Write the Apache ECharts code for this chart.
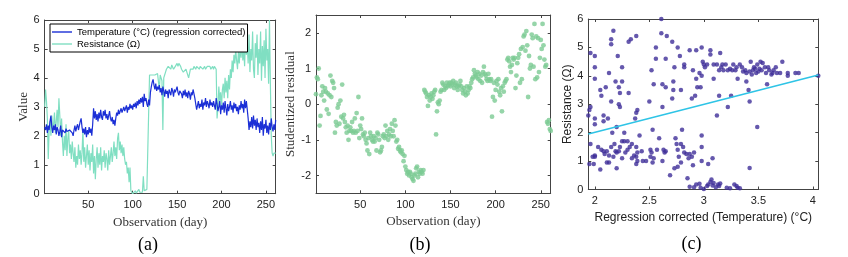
<!DOCTYPE html>
<html><head><meta charset="utf-8">
<script src="https://cdn.jsdelivr.net/npm/echarts@6/dist/echarts.min.js"></script>
<style>html,body{margin:0;padding:0;background:#fff}#c{width:848px;height:257px}</style>
</head><body><div id="c"></div>
<script>
// ---- Panel (a): daily series (day 1..261)
const temperature = [
2.3,2.2,2.4,2.1,2.35,2.2,2.5,2.7,2.3,2.1,
2.35,2.2,2.4,2.05,2.3,2.2,2.0,2.15,2.35,1.95,
2.2,2.15,2.2,2.1,2.25,2.15,2.2,2.1,2.2,2.15,
2.25,2.1,2.0,2.2,2.35,2.15,2.3,2.4,2.2,2.35,
2.5,2.6,2.3,2.1,2.25,2.05,2.3,1.95,2.2,2.05,
2.3,2.1,2.25,2.0,2.4,2.95,2.6,2.85,2.55,2.75,
2.5,2.8,2.6,2.9,2.65,2.55,2.85,2.7,2.9,2.6,
2.75,2.55,2.7,2.85,2.6,2.5,2.65,2.4,2.55,2.35,
2.6,2.8,2.7,2.9,2.75,2.85,2.95,2.8,2.9,3.0,
2.85,2.95,3.05,2.8,3.0,2.9,3.1,2.95,3.05,2.9,
3.1,3.0,3.15,2.95,3.2,3.05,3.25,3.1,3.3,3.15,
3.35,3.0,3.45,3.2,3.3,3.1,3.0,3.25,3.05,3.5,
3.7,3.85,3.95,3.75,3.6,3.8,3.55,3.7,3.6,3.75,
3.5,3.65,3.4,3.7,3.55,3.35,3.6,3.45,3.55,3.3,
3.6,3.5,3.4,3.65,3.55,3.35,3.6,3.5,3.45,3.7,
3.5,3.4,3.55,3.6,3.45,3.3,3.55,3.4,3.6,3.35,
3.5,3.3,3.55,3.45,3.25,3.5,3.4,3.6,3.55,3.3,
3.1,2.9,3.05,3.2,2.95,3.1,3.0,3.25,2.9,3.15,
3.05,3.3,3.0,3.2,3.1,2.95,3.25,3.05,3.15,3.0,
3.2,3.05,2.9,3.3,3.1,2.85,3.0,3.2,2.75,3.05,
2.9,3.15,2.8,3.2,2.95,2.7,3.1,2.85,3.0,3.2,
2.9,3.05,2.8,3.15,2.95,3.1,2.85,3.0,2.75,3.05,
2.9,3.2,2.95,3.1,2.8,3.25,2.95,3.2,3.25,2.6,
2.2,2.5,2.3,2.65,2.25,2.7,2.35,2.55,2.2,2.6,
2.3,2.45,2.1,2.5,2.2,2.65,2.0,2.4,2.25,2.55,
2.1,2.35,2.05,2.45,2.2,2.6,2.3,2.15,2.4,2.2,2.55];
const resistance = [
3.0,3.6,3.2,2.6,1.2,2.2,2.5,2.0,2.7,2.2,
2.4,2.8,2.1,2.5,2.9,2.3,3.3,2.7,2.0,2.6,
1.8,1.3,2.0,1.5,2.4,1.3,1.9,2.2,1.4,1.7,
1.2,1.8,1.4,1.1,1.6,0.9,1.3,1.0,1.7,1.2,
1.5,1.0,1.4,2.2,1.1,1.6,0.9,1.3,1.7,1.0,
1.5,0.8,1.4,1.1,1.7,0.7,1.3,0.5,1.2,1.6,
0.9,1.4,1.0,1.6,0.8,1.3,1.1,1.5,0.9,1.4,
1.2,0.8,1.5,1.0,1.3,1.6,1.1,1.4,1.8,1.3,
1.6,1.2,1.9,2.1,1.5,1.8,1.4,1.7,1.3,1.6,
1.2,1.0,1.1,0.7,0.9,0.4,0.9,0.1,0.05,0.0,
0.05,0.0,0.1,0.02,0.0,0.08,0.15,0.05,0.0,0.1,
0.05,0.6,0.1,0.05,0.1,0.15,0.1,0.2,4.1,4.1,
4.05,4.1,4.15,4.1,4.1,4.05,4.1,4.15,4.1,3.6,
4.1,4.0,3.9,2.2,4.0,4.1,4.2,4.3,4.3,4.4,
4.35,4.4,4.3,4.45,4.4,4.3,4.35,4.4,4.45,4.5,
4.4,4.5,4.45,4.4,4.3,4.35,4.2,4.25,4.15,4.3,
4.2,4.1,4.0,4.15,4.3,4.25,4.35,4.3,4.4,4.35,
4.3,4.4,4.35,4.4,4.3,4.4,4.35,4.4,4.3,4.35,
4.4,4.3,4.35,4.4,4.45,4.35,4.4,4.3,4.35,4.4,
4.3,4.4,4.35,4.3,2.6,3.0,3.7,3.2,3.5,3.0,
3.6,3.8,3.3,4.0,3.5,3.9,3.3,4.1,3.6,4.3,
4.0,4.6,4.2,4.8,4.5,5.0,4.6,4.3,4.9,4.5,
5.1,4.7,5.3,4.6,5.0,4.4,5.4,4.8,5.2,4.5,
5.5,4.2,5.0,4.6,5.6,4.3,4.0,5.2,4.7,5.5,
4.1,5.0,4.5,5.6,3.9,5.1,4.4,5.3,4.0,5.7,
4.6,5.0,3.8,6.0,3.8,2.0,1.4,1.3,1.4,1.35,1.4];

// ---- Panel (b): studentized residual per day (day 1..261)
const residual = [
0.28,0.75,0.7,1.0,-0.6,
-0.33,0.25,0.5,0.35,0.1,0.45,
0.35,-0.15,0.3,-0.27,0.25,
0.8,0.2,0.65,0.6,0.45,-0.8,
-0.5,-0.6,-0.1,0.0,-0.55,
0.1,-0.35,0.55,-0.4,-0.3,-0.5,
-0.65,-0.8,-0.6,-1.0,-0.75,
-0.65,-0.75,-0.5,-0.8,-0.75,-0.4,
-0.8,-0.25,-0.75,0.2,-0.95,
-0.6,-0.7,-0.4,-0.85,-0.9,-0.8,
-1.0,-1.1,-1.3,-0.95,-1.4,
-0.8,-0.9,-1.0,-1.05,-0.9,-1.05,
-0.95,-1.3,-0.8,-0.85,-1.0,-1.35,
-1.3,-1.2,-0.9,-0.85,-0.95,
-0.6,-0.9,-0.75,-1.0,-0.85,-0.7,
-0.9,-0.55,-0.75,-0.9,-0.45,
-0.6,-1.05,-1.0,-1.25,-1.2,-1.3,
-1.35,-1.3,-1.4,-1.6,-1.45,
-1.75,-1.85,-1.95,-1.9,-2.0,-1.9,
-1.95,-2.05,-2.1,-2.15,-2.0,
-1.95,-1.8,-1.75,-2.05,-1.9,-1.95,
-1.85,-1.9,-1.95,-1.85,
0.4,0.35,0.3,0.2,-0.05,
0.25,0.1,0.2,0.3,0.15,0.25,
0.35,0.4,-0.85,-0.2,0.05,
0.0,0.1,0.35,0.4,0.6,0.55,
0.4,0.5,0.45,0.6,0.5,
0.55,0.6,0.5,0.6,0.55,0.65,
0.45,0.55,0.6,0.5,0.4,
0.5,0.55,0.65,0.5,0.4,0.3,
0.45,0.35,0.25,0.5,0.3,
0.4,0.5,0.45,0.6,0.7,0.75,
0.95,0.85,0.8,0.75,0.9,0.7,
0.85,0.65,0.8,0.6,0.9,
1.05,0.85,0.8,0.7,0.65,0.85,
0.7,0.65,0.7,-0.35,0.2,
0.6,0.1,0.4,0.65,0.55,0.7,
0.35,0.25,0.45,-0.2,0.5,
0.35,0.6,0.65,0.7,1.25,1.3,
1.2,1.05,0.9,1.1,1.3,
1.25,1.3,0.45,0.8,1.15,1.3,
1.4,0.6,1.55,0.7,1.6,1.9,
1.95,1.5,2.05,1.65,0.2,
1.35,1.0,1.1,1.95,1.85,1.05,
2.25,0.7,1.9,0.75,1.85,
0.9,1.3,1.8,1.55,2.25,
1.65,1.25,1.05,1.1,
-0.5,-0.55,-0.45,-0.7,-0.75];

// ---- Panel (c): [corrected temperature, resistance]
const scatterC = [
[2.61,6.0],[2.17,5.59],[2.15,5.29],[2.15,5.11],[2.38,5.4],[2.33,5.29],[2.31,5.2],[2.61,5.5],[2.66,5.4],[2.71,5.2],
[2.76,5.0],[2.56,5.0],[1.96,4.8],[2.0,4.7],[2.21,4.7],[2.56,4.6],[2.65,4.6],[2.78,4.7],[2.87,4.9],[2.98,5.0],
[2.93,4.9],[3.06,4.9],[3.15,4.8],[3.06,4.75],[2.0,4.3],[2.25,4.3],[2.13,4.1],[2.52,4.2],[2.73,4.3],[2.82,4.4],
[2.82,4.3],[2.9,4.2],[2.0,3.9],[2.19,3.8],[2.25,3.8],[2.22,3.6],[2.1,3.6],[2.23,3.4],[2.31,3.4],[2.54,3.7],
[2.62,3.7],[2.65,3.6],[2.72,3.8],[2.72,3.5],[2.79,3.5],[2.71,3.2],[2.89,3.2],[2.92,3.3],[2.93,3.9],[2.94,3.6],
[2.97,3.6],[2.96,4.1],[2.98,4.0],[2.99,4.5],[3.0,4.4],[3.01,4.3],[3.03,4.4],[3.09,3.9],[3.14,3.3],[3.12,2.6],
[3.22,2.9],[3.25,3.3],[2.05,3.5],[2.15,3.1],[2.22,3.0],[2.23,2.9],[2.06,3.3],[1.96,2.9],[1.95,2.8],[1.94,2.6],
[2.08,2.6],[2.08,2.4],[2.0,2.5],[2.0,2.3],[2.12,2.5],[2.2,2.2],[2.37,2.5],[2.38,2.7],[2.39,2.8],[2.5,3.1],
[2.62,2.9],[2.53,2.1],[2.16,2.0],[1.96,1.6],[2.03,1.5],[2.06,1.4],[2.08,1.35],[2.09,1.25],[2.0,1.2],[2.13,1.2],
[2.15,1.5],[2.18,1.6],[2.19,1.35],[2.23,1.5],[2.25,1.7],[2.27,2.0],[2.27,1.7],[2.3,1.7],[2.3,1.4],[2.25,1.1],
[2.32,1.5],[2.34,1.6],[2.38,1.5],[2.39,1.3],[2.41,1.9],[2.38,1.15],[2.39,1.0],[2.38,0.9],[2.44,1.0],[2.47,1.0],
[2.51,1.4],[2.52,1.3],[2.53,0.95],[2.54,1.1],[2.57,1.4],[2.59,1.8],[2.63,1.4],[2.64,1.3],[2.62,1.0],[2.65,1.35],
[1.99,0.9],[1.95,0.9],[2.05,0.7],[2.11,0.95],[2.13,0.95],[2.2,0.75],[2.0,1.15],[2.69,0.5],[2.73,0.75],[2.76,0.8],
[2.79,0.95],[2.74,1.8],[2.75,1.6],[2.8,2.1],[2.79,1.6],[2.81,1.5],[2.76,1.4],[2.77,1.15],[2.82,1.3],[2.84,1.25],
[2.86,1.1],[2.87,1.25],[2.89,1.15],[2.91,1.3],[2.85,0.4],[2.9,0.85],[2.98,1.9],[2.98,1.5],[2.98,1.0],[3.04,0.9],
[3.08,1.1],[2.87,0.1],[2.91,0.08],[2.93,0.18],[2.96,0.2],[2.97,0.06],[3.0,0.02],[3.03,0.12],[3.04,0.18],[3.06,0.26],
[3.07,0.35],[3.08,0.14],[3.09,0.23],[3.11,0.08],[3.13,0.18],[3.14,0.12],[3.15,0.21],[3.21,0.06],[3.24,0.04],[3.28,0.18],
[3.3,0.12],[3.31,0.06],[3.33,0.04],[3.42,0.76],[3.49,2.2],[3.42,3.1],[3.41,3.5],[3.39,3.8],[3.31,3.9],[3.09,4.4],
[3.12,4.4],[3.14,4.2],[3.17,4.4],[3.18,4.2],[3.2,4.4],[3.22,4.2],[3.26,4.2],[3.27,4.4],[3.29,4.2],[3.3,4.3],
[3.33,4.4],[3.38,4.2],[3.39,4.1],[3.42,4.15],[3.43,4.5],[3.45,4.2],[3.46,4.3],[3.48,4.1],[3.49,4.4],[3.51,4.25],
[3.52,4.5],[3.54,4.45],[3.56,4.3],[3.57,4.1],[3.59,4.3],[3.6,4.2],[3.62,4.05],[3.63,4.1],[3.66,4.3],[3.67,4.1],
[3.72,4.5],[3.77,4.1],[3.77,4.0],[3.84,4.1],[3.87,4.1],[4.05,4.0],[3.58,3.7],[2.11,1.35],[1.98,1.15],[2.17,1.15],
[2.2,1.3],[2.22,1.35],[2.28,1.3],[2.34,1.1],[2.36,1.2],[2.43,1.35],[2.51,1.15],[3.36,4.15],[3.44,4.05],[3.5,4.15],
[3.53,4.2],[3.47,4.25],[3.64,4.2],[3.7,4.1],[3.24,4.25],[3.16,4.3],[3.35,4.3]];
const regLineX = [1.94, 4.05];
const regLineY = [1.95, 4.03];

// ---- tick labels
const dayTicks = [50, 100, 150, 200, 250];
const residTicks = [-2, -1, 0, 1, 2];
const tempTicks = [2, 2.5, 3, 3.5, 4];
const yTicks06 = [0, 1, 2, 3, 4, 5, 6];

const FIRST_DAY = 1;
const tempSeries = temperature.map((v, i) => [FIRST_DAY + i, v]);
const resSeries = resistance.map((v, i) => [FIRST_DAY + i, v]);
const residSeries = residual.map((v, i) => [FIRST_DAY + i, v]);
const regSeries = regLineX.map((x, i) => [x, regLineY[i]]);

const AX = '#444';
const SANS = 'Liberation Sans, Arial, sans-serif';
const SERIF = 'Liberation Serif, Times New Roman, serif';
const lbl = {color: '#222', fontFamily: SANS, fontSize: 11};

function xAx(grid, min, max, ticks, name, nameFont, nameGap, top) {
  return {
    type: 'value', gridIndex: grid, min: min, max: max, position: top ? 'top' : 'bottom',
    name: top ? '' : name, nameLocation: 'middle', nameGap: nameGap,
    nameTextStyle: nameFont,
    axisLine: {show: true, onZero: false, lineStyle: {color: AX, width: 1}},
    axisTick: {show: true, inside: true, length: 3, lineStyle: {color: AX}, customValues: ticks},
    axisLabel: Object.assign({show: !top, margin: 6, customValues: ticks}, lbl),
    splitLine: {show: false}
  };
}
function yAx(grid, min, max, ticks, name, nameFont, nameGap, right) {
  return {
    type: 'value', gridIndex: grid, min: min, max: max, position: right ? 'right' : 'left',
    name: right ? '' : name, nameLocation: 'middle', nameGap: nameGap,
    nameTextStyle: nameFont,
    axisLine: {show: true, onZero: false, lineStyle: {color: AX, width: 1}},
    axisTick: {show: true, inside: true, length: 3, lineStyle: {color: AX}, customValues: ticks},
    axisLabel: Object.assign({show: !right, margin: 5, customValues: ticks}, lbl),
    splitLine: {show: false}
  };
}
const serifName = {color: '#333', fontFamily: SERIF, fontSize: 13};
const sansName = {color: '#222', fontFamily: SANS, fontSize: 12};

const chart = echarts.init(document.getElementById('c'));
chart.setOption({
  animation: false,
  backgroundColor: '#fff',
  grid: [
    {left: 44.7, top: 20, width: 231, height: 173.7},
    {left: 316, top: 15, width: 234.7, height: 178.3},
    {left: 588.3, top: 19, width: 230, height: 170.5}
  ],
  xAxis: [
    xAx(0, 1, 261, dayTicks, 'Observation (day)', serifName, 16, false),
    xAx(0, 1, 261, dayTicks, '', serifName, 0, true),
    xAx(1, 1, 261, dayTicks, 'Observation (day)', serifName, 16, false),
    xAx(1, 1, 261, dayTicks, '', serifName, 0, true),
    xAx(2, 1.94, 4.05, tempTicks, 'Regression corrected (Temperature) (°C)', sansName, 22, false),
    xAx(2, 1.94, 4.05, tempTicks, '', sansName, 0, true)
  ],
  yAxis: [
    yAx(0, 0, 6, yTicks06, 'Value', serifName, 13, false),
    yAx(0, 0, 6, yTicks06, '', serifName, 0, true),
    yAx(1, -2.5, 2.5, residTicks, 'Studentized residual', serifName, 16, false),
    yAx(1, -2.5, 2.5, residTicks, '', serifName, 0, true),
    yAx(2, 0, 6, yTicks06, 'Resistance (Ω)', sansName, 14, false),
    yAx(2, 0, 6, yTicks06, '', sansName, 0, true)
  ],
  legend: {
    left: 50, top: 24, orient: 'vertical',
    data: ['Temperature (°C) (regression corrected)', 'Resistance (Ω)'],
    icon: 'path://M0,0 L20,0 L20,1.4 L0,1.4 Z',
    backgroundColor: '#fff', borderColor: '#000', borderWidth: 1, borderRadius: 0,
    padding: [3, 2, 3, 2], itemGap: 2, itemWidth: 20, itemHeight: 10,
    textStyle: {color: '#000', fontFamily: SANS, fontSize: 9.5}
  },
  series: [
    {name: 'Resistance (Ω)', type: 'line', xAxisIndex: 0, yAxisIndex: 0, data: resSeries,
     symbol: 'none', lineStyle: {color: '#80dfc2', width: 1.2}, itemStyle: {color: '#80dfc2'}, z: 2},
    {name: 'Temperature (°C) (regression corrected)', type: 'line', xAxisIndex: 0, yAxisIndex: 0, data: tempSeries,
     symbol: 'none', lineStyle: {color: '#1b2fd6', width: 1.2}, itemStyle: {color: '#1b2fd6'}, z: 3},
    {type: 'scatter', xAxisIndex: 2, yAxisIndex: 2, data: residSeries, symbolSize: 4.8,
     itemStyle: {color: '#7ccb93'}},
    {type: 'scatter', xAxisIndex: 4, yAxisIndex: 4, data: scatterC, symbolSize: 4.5,
     itemStyle: {color: '#3f2e98'}},
    {type: 'line', xAxisIndex: 4, yAxisIndex: 4, data: regSeries, symbol: 'none',
     lineStyle: {color: '#2ec4e6', width: 1.5}, z: 3}
  ],
  graphic: [
    {type: 'text', x: 148, y: 245, style: {text: '(a)', fontFamily: SERIF, fontSize: 18, fill: '#000', textAlign: 'center', textVerticalAlign: 'middle'}},
    {type: 'text', x: 420, y: 245, style: {text: '(b)', fontFamily: SERIF, fontSize: 18, fill: '#000', textAlign: 'center', textVerticalAlign: 'middle'}},
    {type: 'text', x: 691.5, y: 244, style: {text: '(c)', fontFamily: SERIF, fontSize: 18, fill: '#000', textAlign: 'center', textVerticalAlign: 'middle'}}
  ]
});
</script></body></html>
